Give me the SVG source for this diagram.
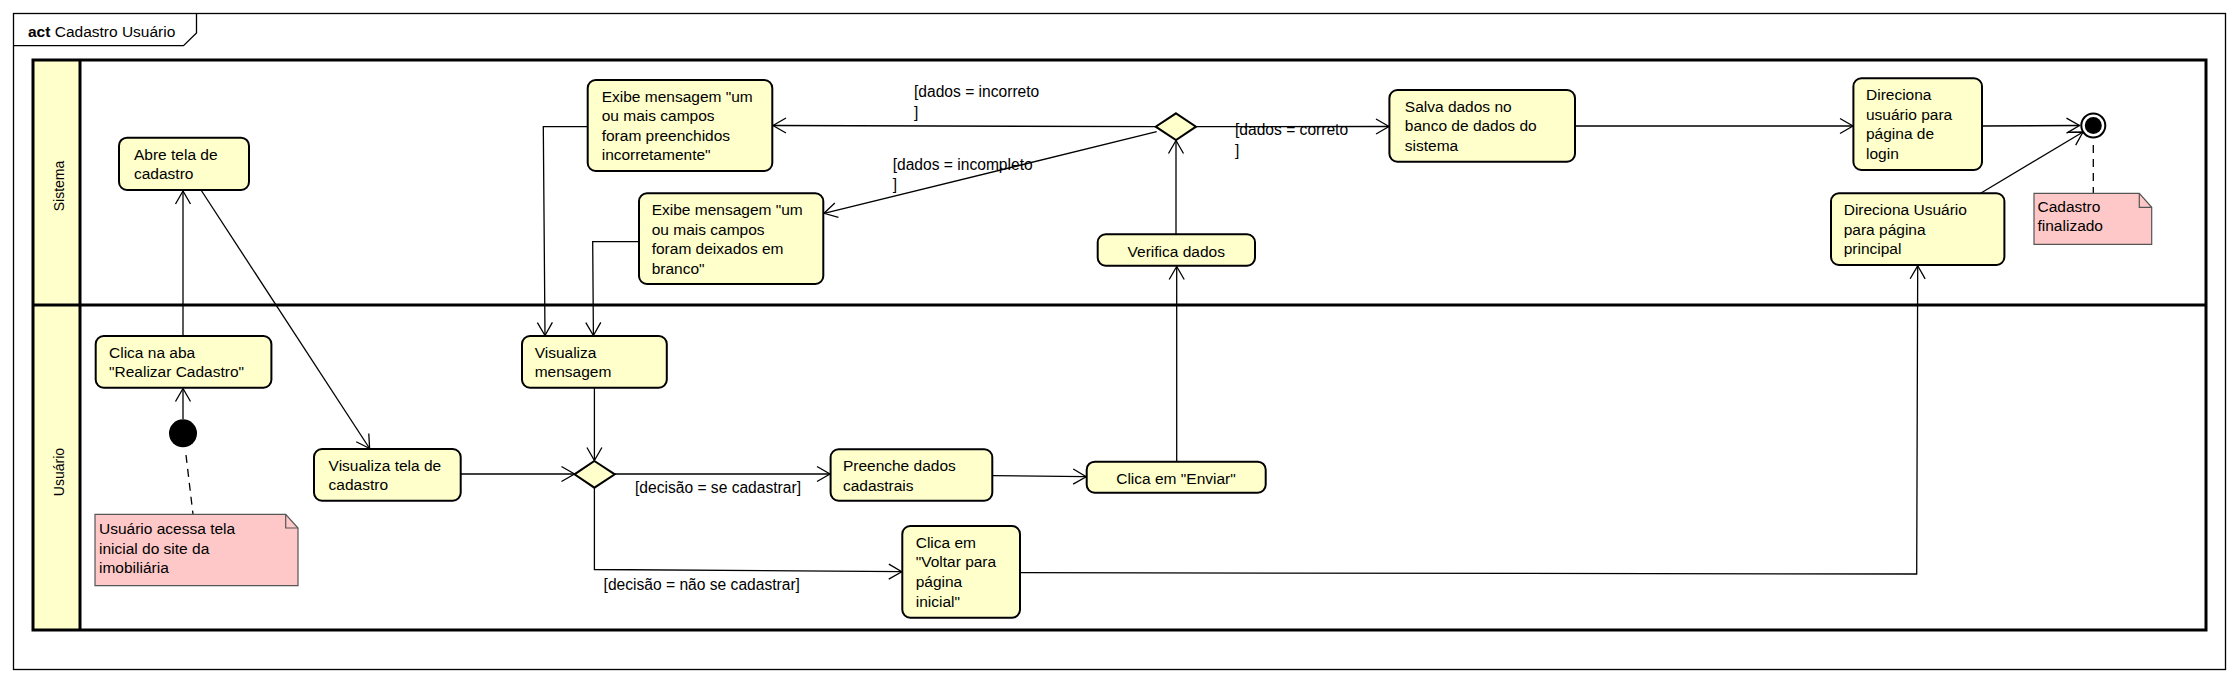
<svg xmlns="http://www.w3.org/2000/svg" width="2238" height="682" viewBox="0 0 2238 682">
<defs>
<style>
text{font-family:"Liberation Sans",Arial,sans-serif;fill:#000}
.t{font-size:15.5px}
.lbl{font-size:15.6px}
.node{fill:#FFFFCC;stroke:#000;stroke-width:2}
.note{fill:#FFC8C8;stroke:#555;stroke-width:1.2}
.lane{fill:none;stroke:#000;stroke-width:3}
.c{fill:none;stroke:#000;stroke-width:1.3}
.a{marker-end:url(#arr)}
.d{fill:none;stroke:#000;stroke-width:1.3;stroke-dasharray:8,6}
</style>
<marker id="arr" markerUnits="userSpaceOnUse" markerWidth="20" markerHeight="20" viewBox="-15 -10 17 20" refX="0" refY="0" orient="auto">
<path d="M-13,-7.5 L0,0 L-13,7.5" fill="none" stroke="#000" stroke-width="1.3"/>
</marker>
</defs>
<rect width="2238" height="682" fill="#fff"/>
<g id="frame">
<rect x="13.5" y="13.5" width="2212" height="656" fill="none" stroke="#000" stroke-width="1.3"/>
<path d="M13.5,45.7 H183.5 L196.5,33 V13.5" fill="none" stroke="#000" stroke-width="1.3"/>
<text x="28" y="36.7" style="font-size:15.5px"><tspan font-weight="bold">act</tspan> Cadastro Usuário</text>
</g>
<g id="swimlanes">
<rect x="33" y="60" width="47" height="570" fill="#FFFFCC"/>
<rect x="33" y="60" width="2173" height="570" class="lane"/>
<line x1="80" y1="60" x2="80" y2="630" class="lane"/>
<line x1="33" y1="305" x2="2206" y2="305" class="lane"/>
<text transform="translate(64,186) rotate(-90)" text-anchor="middle" style="font-size:14px">Sistema</text>
<text transform="translate(64,472) rotate(-90)" text-anchor="middle" style="font-size:14px">Usuário</text>
</g>
<g id="connectors">
<line x1="183" y1="419" x2="183" y2="388.5" class="c a"/>
<line x1="183" y1="336" x2="183" y2="191" class="c a"/>
<line x1="201" y1="190" x2="369.6" y2="448.5" class="c a"/>
<line x1="460.7" y1="474" x2="574.5" y2="474" class="c a"/>
<line x1="615" y1="474" x2="830" y2="474" class="c a"/>
<text x="635" y="492.7" class="lbl">[decisão = se cadastrar]</text>
<polyline points="594.4,488 594.4,569.5 901.8,571.7" class="c a"/>
<text x="603.6" y="590" class="lbl">[decisão = não se cadastrar]</text>
<line x1="992.3" y1="475.7" x2="1086.2" y2="476.7" class="c a"/>
<line x1="1176.7" y1="461.7" x2="1176.7" y2="266.5" class="c a"/>
<line x1="1176" y1="234.3" x2="1176" y2="140.5" class="c a"/>
<line x1="1196" y1="126.7" x2="1389" y2="126.5" class="c a"/>
<text x="1235" y="135" class="lbl">[dados = correto</text>
<text x="1235" y="156" class="lbl">]</text>
<line x1="1155.7" y1="126.7" x2="773" y2="125.5" class="c a"/>
<text x="914" y="96.7" class="lbl">[dados = incorreto</text>
<text x="914" y="118.3" class="lbl">]</text>
<line x1="1156.7" y1="131.7" x2="824" y2="213.3" class="c a"/>
<text x="892.7" y="170" class="lbl">[dados = incompleto</text>
<text x="892.7" y="190" class="lbl">]</text>
<polyline points="587.7,126.7 543.3,126.7 545,335.5" class="c a"/>
<polyline points="639,241.7 592.7,241.7 593.4,335.5" class="c a"/>
<line x1="594.4" y1="387.7" x2="594.4" y2="460.5" class="c a"/>
<line x1="1575" y1="126" x2="1853" y2="126" class="c a"/>
<line x1="1982" y1="126" x2="2079.5" y2="125.5" class="c a"/>
<line x1="1980.6" y1="193.3" x2="2083" y2="132" class="c a"/>
<polyline points="1020,572.7 1916.7,574 1917.7,265.8" class="c a"/>
<line x1="186" y1="455" x2="193" y2="514.3" class="d"/>
<line x1="2093.3" y1="145" x2="2093.3" y2="193.3" class="d"/>
</g>
<g id="initial">
<circle cx="183" cy="433.3" r="14" fill="#000"/>
</g>
<g id="final">
<circle cx="2093.3" cy="125.5" r="12" fill="#fff" stroke="#000" stroke-width="2"/>
<circle cx="2093.3" cy="125.5" r="8.5" fill="#000"/>
</g>
<g id="note-usuario">
<path d="M95,514.3 H285.7 L298,528 V585.7 H95 Z" class="note"/>
<path d="M285.7,514.3 V528 H298" fill="none" stroke="#555" stroke-width="1.2"/>
<text x="99" y="534" class="t"><tspan x="99">Usuário acessa tela</tspan><tspan x="99" dy="19.6">inicial do site da</tspan><tspan x="99" dy="19.6">imobiliária</tspan></text>
</g>
<g id="note-cadastro">
<path d="M2034,193.3 H2139.3 L2151.7,207.3 V244.3 H2034 Z" class="note"/>
<path d="M2139.3,193.3 V207.3 H2151.7" fill="none" stroke="#555" stroke-width="1.2"/>
<text x="2037.5" y="212" class="t"><tspan x="2037.5">Cadastro</tspan><tspan x="2037.5" dy="19.4">finalizado</tspan></text>
</g>
<g id="abre-tela">
<rect x="119" y="137.7" width="130" height="52.3" rx="8" class="node"/>
<text x="134" y="159.7" class="t"><tspan x="134">Abre tela de</tspan><tspan x="134" dy="19.7">cadastro</tspan></text>
</g>
<g id="clica-aba">
<rect x="95.7" y="336" width="175.7" height="51.7" rx="8" class="node"/>
<text x="109" y="357.5" class="t"><tspan x="109">Clica na aba</tspan><tspan x="109" dy="19.7">"Realizar Cadastro"</tspan></text>
</g>
<g id="visualiza-tela">
<rect x="314" y="449" width="146.7" height="51.7" rx="8" class="node"/>
<text x="328.6" y="470.5" class="t"><tspan x="328.6">Visualiza tela de</tspan><tspan x="328.6" dy="19.7">cadastro</tspan></text>
</g>
<g id="visualiza-mensagem">
<rect x="522" y="336" width="144.8" height="51.7" rx="8" class="node"/>
<text x="534.7" y="357.5" class="t"><tspan x="534.7">Visualiza</tspan><tspan x="534.7" dy="19.7">mensagem</tspan></text>
</g>
<g id="decisao-usuario">
<path d="M594.4,461 L614.8,474.3 L594.4,487.7 L574.5,474.3 Z" class="node"/>
</g>
<g id="preenche">
<rect x="830.6" y="449.3" width="161.7" height="51.4" rx="8" class="node"/>
<text x="842.9" y="471" class="t"><tspan x="842.9">Preenche dados</tspan><tspan x="842.9" dy="19.7">cadastrais</tspan></text>
</g>
<g id="clica-enviar">
<rect x="1086.7" y="461.7" width="179" height="31" rx="8" class="node"/>
<text x="1176" y="484.3" text-anchor="middle" class="t">Clica em "Enviar"</text>
</g>
<g id="clica-voltar">
<rect x="902.3" y="526" width="117.7" height="91.7" rx="8" class="node"/>
<text x="915.7" y="547.5" class="t"><tspan x="915.7">Clica em</tspan><tspan x="915.7" dy="19.7">"Voltar para</tspan><tspan x="915.7" dy="19.7">página</tspan><tspan x="915.7" dy="19.7">inicial"</tspan></text>
</g>
<g id="verifica">
<rect x="1097.7" y="234.3" width="157.3" height="31.4" rx="8" class="node"/>
<text x="1176.3" y="256.7" text-anchor="middle" class="t">Verifica dados</text>
</g>
<g id="decisao-dados">
<path d="M1176,113.3 L1196,126.7 L1176,140 L1155.7,126.7 Z" class="node"/>
</g>
<g id="exibe-incorreto">
<rect x="587.7" y="80" width="184.6" height="91" rx="8" class="node"/>
<text x="601.7" y="101.7" class="t"><tspan x="601.7">Exibe mensagem "um</tspan><tspan x="601.7" dy="19.5">ou mais campos</tspan><tspan x="601.7" dy="19.5">foram preenchidos</tspan><tspan x="601.7" dy="19.5">incorretamente"</tspan></text>
</g>
<g id="exibe-branco">
<rect x="639" y="193.3" width="184.3" height="90.7" rx="8" class="node"/>
<text x="651.7" y="215" class="t"><tspan x="651.7">Exibe mensagem "um</tspan><tspan x="651.7" dy="19.5">ou mais campos</tspan><tspan x="651.7" dy="19.5">foram deixados em</tspan><tspan x="651.7" dy="19.5">branco"</tspan></text>
</g>
<g id="salva">
<rect x="1389.4" y="90" width="185.6" height="71.7" rx="8" class="node"/>
<text x="1404.8" y="111.5" class="t"><tspan x="1404.8">Salva dados no</tspan><tspan x="1404.8" dy="19.7">banco de dados do</tspan><tspan x="1404.8" dy="19.7">sistema</tspan></text>
</g>
<g id="direciona-login">
<rect x="1853.4" y="78.3" width="128.6" height="91.7" rx="8" class="node"/>
<text x="1866" y="100" class="t"><tspan x="1866">Direciona</tspan><tspan x="1866" dy="19.7">usuário para</tspan><tspan x="1866" dy="19.7">página de</tspan><tspan x="1866" dy="19.7">login</tspan></text>
</g>
<g id="direciona-principal">
<rect x="1831" y="193.3" width="173.4" height="71.7" rx="8" class="node"/>
<text x="1843.7" y="215" class="t"><tspan x="1843.7">Direciona Usuário</tspan><tspan x="1843.7" dy="19.7">para página</tspan><tspan x="1843.7" dy="19.7">principal</tspan></text>
</g>
</svg>
